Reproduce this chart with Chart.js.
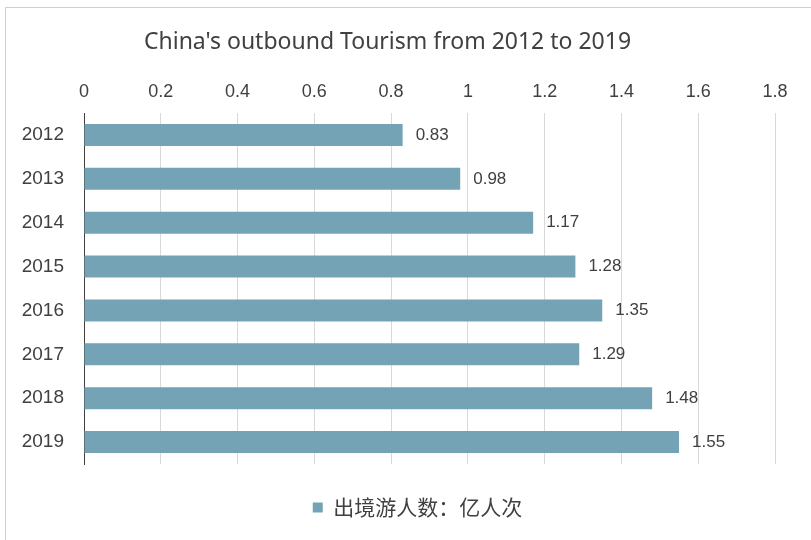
<!DOCTYPE html>
<html lang="en">
<head>
<meta charset="UTF-8">
<title>China's outbound Tourism</title>
<script src="https://cdn.jsdelivr.net/npm/chart.js@4/dist/chart.umd.min.js"></script>
<style>
  body { margin: 0; background: #fff; }
  #wrap { position: relative; width: 811px; height: 540px; overflow: hidden; }
  #frame { position: absolute; left: 5px; top: 7px; width: 900px; height: 600px; border: 1px solid #d0d0d0; }
  #chart { position: absolute; left: 0; top: 0; }
</style>
</head>
<body>
<div id="wrap">
  <div id="frame"></div>
  <canvas id="chart" width="811" height="540"></canvas>
</div>
<script>
  var years = ["2012", "2013", "2014", "2015", "2016", "2017", "2018", "2019"];
  var tourists = [0.83, 0.98, 1.17, 1.28, 1.35, 1.29, 1.48, 1.55];
  var seriesName = "出境游人数：亿人次";
  var chartTitle = "China's outbound Tourism from 2012 to 2019";

  var textColor = '#404040';

  // value labels to the right of each bar
  var barValues = {
    id: 'barValues',
    afterDatasetsDraw: function(chart) {
      var ctx = chart.ctx;
      var meta = chart.getDatasetMeta(0);
      ctx.save();
      ctx.font = '17px "Liberation Sans", Arial, sans-serif';
      ctx.fillStyle = textColor;
      ctx.textAlign = 'left';
      ctx.textBaseline = 'middle';
      meta.data.forEach(function(bar, i) {
        ctx.fillText(tourists[i].toFixed(2), bar.x + 13, bar.y);
      });
      ctx.restore();
    }
  };

  // legend sits a bit right of the plot centre
  var legendShift = {
    id: 'legendShift',
    afterLayout: function(chart) {
      chart.legend.left += 30;
      chart.legend.right += 30;
    }
  };

  var ctx = document.getElementById('chart').getContext('2d');
  var chart = new Chart(ctx, {
    type: 'bar',
    data: {
      labels: years,
      datasets: [{
        label: seriesName,
        data: tourists,
        backgroundColor: '#74a3b5',
        borderWidth: 0,
        barPercentage: 0.5,
        categoryPercentage: 1
      }]
    },
    options: {
      indexAxis: 'y',
      responsive: false,
      animation: false,
      layout: { padding: { left: 0, right: 36, top: 0, bottom: 12 } },
      plugins: {
        title: {
          display: true,
          text: chartTitle,
          color: textColor,
          font: { family: '"Noto Sans", sans-serif', size: 23, weight: 'normal', lineHeight: 1.2 },
          padding: { top: 29, bottom: 7 }
        },
        legend: {
          position: 'bottom',
          labels: {
            color: textColor,
            boxWidth: 10,
            boxHeight: 10,
            padding: 33,
            font: { family: '"Noto Sans CJK SC", sans-serif', size: 21 }
          }
        },
        tooltip: { enabled: false }
      },
      scales: {
        x: {
          position: 'top',
          min: 0,
          max: 1.8,
          ticks: {
            stepSize: 0.2,
            color: textColor,
            padding: 10,
            font: { family: '"Liberation Sans", Arial, sans-serif', size: 18 },
            callback: function(v) { return Math.round(v * 10) / 10; }
          },
          grid: { color: '#d9d9d9', drawTicks: false },
          border: { display: false },
          afterFit: function(scale) { scale.height = 49.4; }
        },
        y: {
          ticks: {
            color: textColor,
            padding: 20,
            font: { family: '"Liberation Sans", Arial, sans-serif', size: 19 }
          },
          grid: { display: false, drawTicks: false },
          border: { display: true, color: '#404040', width: 1 },
          afterFit: function(scale) { scale.width = 84; }
        }
      }
    },
    plugins: [barValues, legendShift]
  });
</script>
</body>
</html>
